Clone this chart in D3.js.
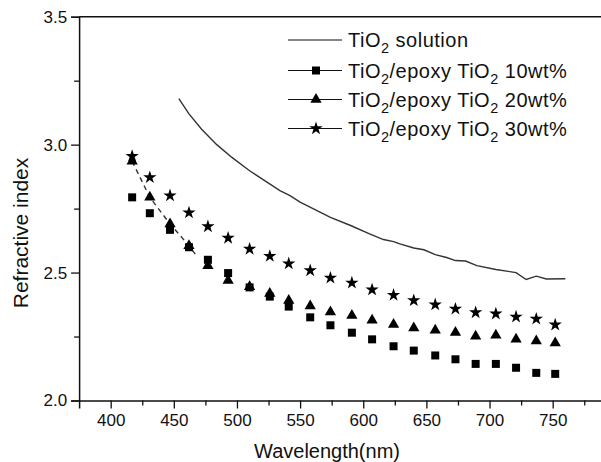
<!DOCTYPE html>
<html>
<head>
<meta charset="utf-8">
<script src="https://cdn.jsdelivr.net/npm/d3@7"></script>
<style>
  body { margin: 0; background: #fff; }
  svg text { font-family: "Liberation Sans", Arial, Helvetica, sans-serif; fill: #111; }
</style>
</head>
<body>
<div id="chart"></div>
<script>
// Wavelength positions of the measured points, [nm]
const wavelengths = [417, 431, 447, 462, 477, 493, 510, 526, 541, 558, 574,
                     591, 607, 624, 640, 657, 673, 689, 705, 721, 737, 752];

// Refractive index of the three TiO2/epoxy films
const epoxy10 = [2.794, 2.732, 2.667, 2.599, 2.550, 2.498, 2.442, 2.406, 2.367, 2.325, 2.294,
                 2.265, 2.239, 2.212, 2.195, 2.176, 2.161, 2.143, 2.143, 2.128, 2.108, 2.104];
const epoxy20 = [2.935, 2.794, 2.690, 2.605, 2.527, 2.469, 2.445, 2.418, 2.391, 2.369, 2.346,
                 2.332, 2.314, 2.297, 2.283, 2.275, 2.266, 2.251, 2.255, 2.239, 2.233, 2.225];
const epoxy30 = [2.955, 2.872, 2.801, 2.734, 2.680, 2.635, 2.592, 2.564, 2.535, 2.508, 2.479,
                 2.460, 2.433, 2.412, 2.391, 2.375, 2.358, 2.344, 2.339, 2.327, 2.319, 2.296];

// TiO2 solution curve
const solutionWl = [454, 462, 472, 484, 496, 510, 534, 542, 550, 574, 590, 605, 616, 624,
                    629, 640, 648, 657, 666, 673, 681, 690, 705, 721, 729, 737, 745, 760];
const solutionN  = [3.18, 3.12, 3.06, 3.00, 2.95, 2.898, 2.820, 2.801, 2.775, 2.716, 2.684, 2.651, 2.629, 2.621,
                    2.612, 2.596, 2.589, 2.570, 2.559, 2.547, 2.545, 2.527, 2.512, 2.500, 2.473, 2.486, 2.475, 2.476];

// Dashed guide through the first 20wt% points
const dashWl = [417, 431, 447, 462, 468];
const dashN  = [2.935, 2.794, 2.690, 2.605, 2.565];

// Axis ticks
const xTicks = [400, 450, 500, 550, 600, 650, 700, 750];
const xMinorTicks = [425, 475, 525, 575, 625, 675, 725, 775];
const yTicks = [2.0, 2.5, 3.0, 3.5];
const yMinorTicks = [2.25, 2.75, 3.25];

const legendLabels = [
    {pre: "TiO", mid: " solution", post: "", symbol: null},
    {pre: "TiO", mid: "/epoxy TiO", post: " 10wt%", symbol: d3.symbolSquare},
    {pre: "TiO", mid: "/epoxy TiO", post: " 20wt%", symbol: d3.symbolTriangle},
    {pre: "TiO", mid: "/epoxy TiO", post: " 30wt%", symbol: d3.symbolStar}
];

const width = 601, height = 462;
const ink = "#111";

const svg = d3.select("#chart")
              .append("svg")
              .attr("width", width)
              .attr("height", height);

const xScale = d3.scaleLinear().domain([375, 790]).range([79.1, 603.2]);
const yScale = d3.scaleLinear().domain([2.0, 3.5]).range([400.5, 16.7]);
const x0 = xScale(375), y0 = yScale(2.0);

// Axes, major and minor ticks both pointing outwards
svg.append("g")
   .attr("transform", "translate(0," + y0 + ")")
   .call(d3.axisBottom(xScale).tickValues(xTicks).tickSize(8).tickPadding(5).tickFormat(d3.format("d")));
svg.append("g")
   .attr("transform", "translate(0," + y0 + ")")
   .call(d3.axisBottom(xScale).tickValues(xMinorTicks).tickSize(5).tickFormat(""))
   .select(".domain").remove();

svg.append("g")
   .attr("transform", "translate(" + x0 + ",0)")
   .call(d3.axisLeft(yScale).tickValues(yTicks).tickSize(8).tickPadding(4).tickFormat(d3.format(".1f")));
svg.append("g")
   .attr("transform", "translate(" + x0 + ",0)")
   .call(d3.axisLeft(yScale).tickValues(yMinorTicks).tickSize(5).tickFormat(""))
   .select(".domain").remove();

svg.selectAll(".domain").attr("stroke", ink).attr("stroke-width", 1.5);
svg.selectAll(".tick line").attr("stroke", ink).attr("stroke-width", 1.3);
svg.selectAll(".tick text").style("font-size", "17px").attr("fill", "#222");

// Top frame line
svg.append("line")
   .attr("x1", x0).attr("x2", width)
   .attr("y1", yScale(3.5)).attr("y2", yScale(3.5))
   .attr("stroke", ink).attr("stroke-width", 1.5);

// Axis titles
svg.append("text")
   .attr("x", 327).attr("y", 458)
   .attr("text-anchor", "middle")
   .style("font-size", "20px")
   .text("Wavelength(nm)");
svg.append("text")
   .attr("transform", "translate(28,233) rotate(-90)")
   .attr("text-anchor", "middle")
   .style("font-size", "21px")
   .text("Refractive index");

// TiO2 solution line
const line = d3.line().x(d => xScale(d[0])).y(d => yScale(d[1]));
svg.append("path")
   .datum(d3.zip(solutionWl, solutionN))
   .attr("d", line)
   .attr("fill", "none")
   .attr("stroke", "#333")
   .attr("stroke-width", 1.4);

// Dashed guide
svg.append("path")
   .datum(d3.zip(dashWl, dashN))
   .attr("d", line)
   .attr("fill", "none")
   .attr("stroke", "#333")
   .attr("stroke-width", 1.4)
   .attr("stroke-dasharray", "5,4");

// Markers
const series = [
    {values: epoxy10, symbol: d3.symbolSquare, size: 64},
    {values: epoxy20, symbol: d3.symbolTriangle, size: 55},
    {values: epoxy30, symbol: d3.symbolStar, size: 55}
];
series.forEach(function (s) {
    svg.append("g")
       .selectAll("path")
       .data(d3.zip(wavelengths, s.values))
       .enter()
       .append("path")
       .attr("transform", d => "translate(" + xScale(d[0]) + "," + yScale(d[1]) + ")")
       .attr("d", d3.symbol().type(s.symbol).size(s.size))
       .attr("fill", "#000");
});

// Legend
const legendY = [40, 70.5, 99.5, 128.5];
const legend = svg.append("g");
legendLabels.forEach(function (d, i) {
    const y = legendY[i];
    legend.append("line")
          .attr("x1", 288).attr("x2", 342)
          .attr("y1", y).attr("y2", y)
          .attr("stroke", ink).attr("stroke-width", 1.2);
    if (d.symbol) {
        legend.append("path")
              .attr("transform", "translate(316," + y + ")")
              .attr("d", d3.symbol().type(d.symbol).size(d.symbol === d3.symbolSquare ? 64 : 55))
              .attr("fill", "#000");
    }
    const t = legend.append("text")
                    .attr("x", 348).attr("y", y + 7)
                    .style("font-size", "20px")
                    .style("letter-spacing", "0.5px");
    t.append("tspan").text(d.pre);
    t.append("tspan").attr("dy", 6).style("font-size", "14.5px").text("2");
    t.append("tspan").attr("dy", -6).text(d.mid);
    if (d.post) {
        t.append("tspan").attr("dy", 6).style("font-size", "14.5px").text("2");
        t.append("tspan").attr("dy", -6).text(d.post);
    }
});
</script>
</body>
</html>
